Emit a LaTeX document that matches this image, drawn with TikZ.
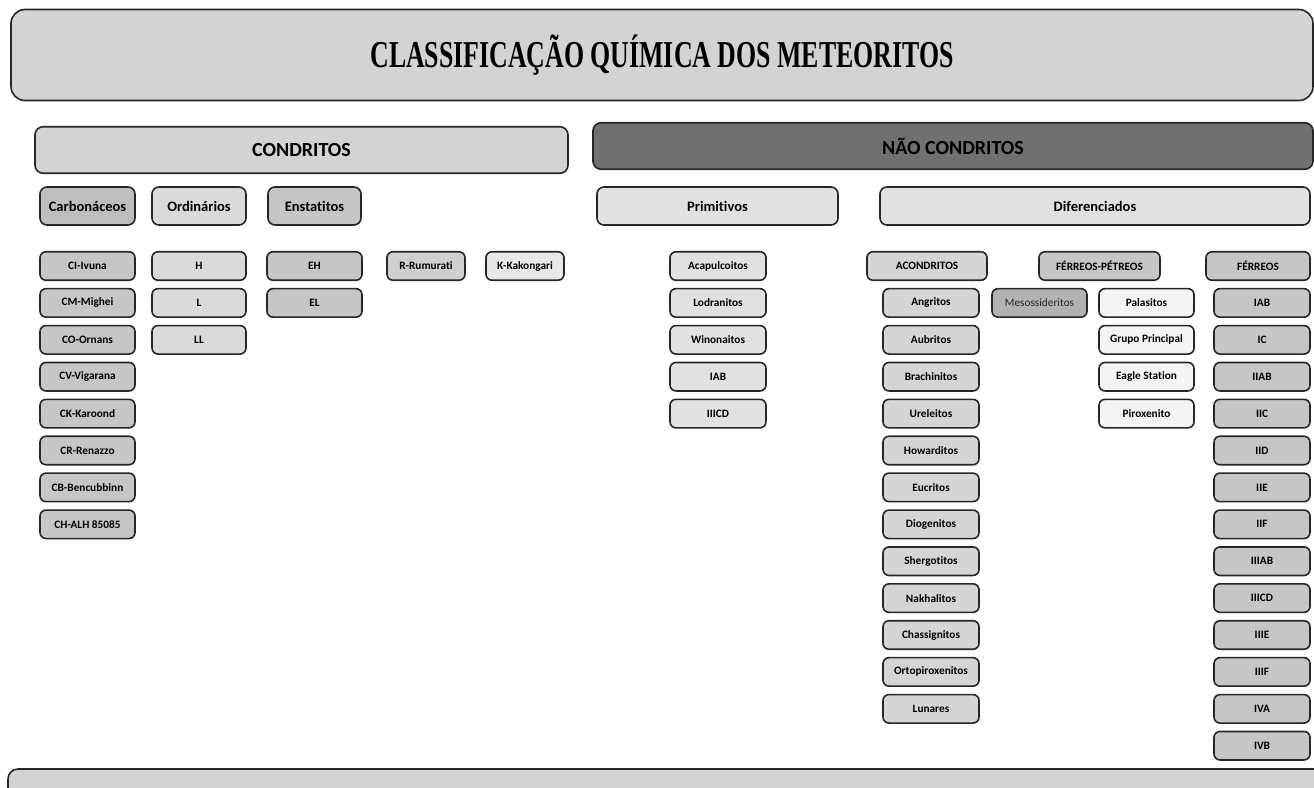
\documentclass[tikz,border=0pt]{standalone}
\usepackage{fontspec}
\usepackage{graphicx}
\setmainfont{Carlito}[Ligatures=NoCommon]
\newfontfamily\fonteTitulo{Liberation Serif}

\definecolor{contorno}{HTML}{262626}
\definecolor{cinzaTitulo}{HTML}{D3D3D3}
\definecolor{cinzaEscuro}{HTML}{707070}
\definecolor{cinzaCarb}{HTML}{BEBEBE}
\definecolor{cinzaMedio}{HTML}{C6C6C6}
\definecolor{cinzaClaro}{HTML}{DADADA}
\definecolor{cinzaPalido}{HTML}{E1E1E1}
\definecolor{cinzaRumu}{HTML}{D0D0D0}
\definecolor{cinzaKako}{HTML}{E8E8E8}
\definecolor{cinzaAcon}{HTML}{D5D5D5}
\definecolor{cinzaMeso}{HTML}{B2B2B2}
\definecolor{quaseBranco}{HTML}{F4F4F4}

\tikzset{
  moldura/.style={draw=contorno,line width=1.6,inner sep=0,text=black},
  titulo/.style={moldura,rounded corners=14,fill=cinzaTitulo,minimum width=1302,minimum height=91},
  grupo/.style={moldura,rounded corners=8,minimum height=46.5,font=\fontsize{20}{22}\selectfont\bfseries},
  classe/.style={moldura,rounded corners=7,minimum height=38,font=\fontsize{14.5}{16}\selectfont\bfseries},
  item/.style={moldura,rounded corners=6,minimum height=28.5,font=\fontsize{11.3}{13}\selectfont\bfseries},
}

\begin{document}
\begin{tikzpicture}[x=1pt,y=-1pt]

		\useasboundingbox (0,0) rectangle (1314,787);

		\node[titulo] (titulo) at (662,55) {\fonteTitulo\bfseries\fontsize{38}{40}\selectfont\scalebox{0.68}[1]{CLASSIFICAÇÃO QUÍMICA DOS METEORITOS}}; %título

		\node[grupo,fill=cinzaTitulo,minimum width=533] (condritos) at (301.5,150) {CONDRITOS};
		\node[grupo,fill=cinzaEscuro,minimum width=720] (naocondritos) at (953,146) {NÃO CONDRITOS};

		\node[classe,fill=cinzaCarb,minimum width=95] (carbonaceos) at (87.5,206) {Carbonáceos};
		\node[classe,fill=cinzaClaro,minimum width=94] (ordinarios) at (199,206) {Ordinários};
		\node[classe,fill=cinzaMedio,minimum width=93] (enstatitos) at (314.5,206) {Enstatitos};
		\node[classe,fill=cinzaPalido,minimum width=241] (primitivos) at (717.5,206) {Primitivos};
		\node[classe,fill=cinzaPalido,minimum width=430] (diferenciados) at (1095,206) {Diferenciados};

		% condritos
		\foreach \nome [count=\i from 0] in {CI-Ivuna,CM-Mighei,CO-Ornans,CV-Vigarana,CK-Karoond,CR-Renazzo,CB-Bencubbinn,CH-ALH 85085}
			\node[item,fill=cinzaMedio,minimum width=95] (carb\i) at (87.5,{266+36.9*\i}) {\nome};
		\foreach \nome [count=\i from 0] in {H,L,LL}
			\node[item,fill=cinzaClaro,minimum width=94] (ord\i) at (199,{266+36.9*\i}) {\nome};
		\foreach \nome [count=\i from 0] in {EH,EL}
			\node[item,fill=cinzaMedio,minimum width=95] (ens\i) at (314.5,{266+36.9*\i}) {\nome};
		\node[item,fill=cinzaRumu,minimum width=78] (rumurati) at (426,266) {R-Rumurati};
		\node[item,fill=cinzaKako,minimum width=78] (kakongari) at (525,266) {K-Kakongari};

		% primitivos
		\foreach \nome [count=\i from 0] in {Acapulcoitos,Lodranitos,Winonaitos,IAB,IIICD}
			\node[item,fill=cinzaPalido,minimum width=96] (prim\i) at (718,{266+36.9*\i}) {\nome};

		% diferenciados
		\node[item,fill=cinzaAcon,minimum width=120] (acondritos) at (927,266) {ACONDRITOS};
		\node[item,fill=cinzaMedio,minimum width=121] (ferreopetreos) at (1099.5,266) {FÉRREOS-PÉTREOS};
		\node[item,fill=cinzaMedio,minimum width=104] (ferreos) at (1258,266) {FÉRREOS};

		\foreach \nome [count=\i from 1] in {Angritos,Aubritos,Brachinitos,Ureleitos,Howarditos,Eucritos,Diogenitos,Shergotitos,Nakhalitos,Chassignitos,Ortopiroxenitos,Lunares}
			\node[item,fill=cinzaAcon,minimum width=96] (acon\i) at (931,{266+36.9*\i}) {\nome};
		\node[item,fill=cinzaMeso,minimum width=95,font=\fontsize{11.3}{13}\selectfont,text=contorno] (mesossideritos) at (1039.5,302.9) {Mesossideritos};
		\foreach \nome [count=\i from 1] in {Palasitos,Grupo Principal,Eagle Station,Piroxenito}
			\node[item,fill=quaseBranco,minimum width=95] (pala\i) at (1146.5,{266+36.9*\i}) {\nome};
		\foreach \nome [count=\i from 1] in {IAB,IC,IIAB,IIC,IID,IIE,IIF,IIIAB,IIICD,IIIE,IIIF,IVA,IVB}
			\node[item,fill=cinzaMedio,minimum width=96] (fer\i) at (1262,{266+36.9*\i}) {\nome};

		\draw[draw=contorno,line width=1.6,fill=cinzaTitulo,rounded corners=10] (8,769) rectangle (1340,840); %faixa inferior
	\end{tikzpicture}
\end{document}
